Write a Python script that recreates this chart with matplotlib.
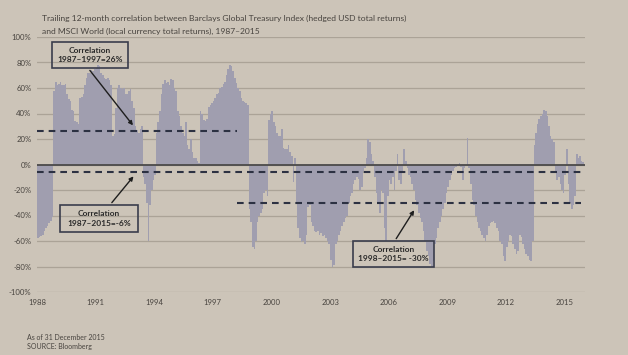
import matplotlib
matplotlib.use("Agg")
import matplotlib.pyplot as plt
from matplotlib.patches import Rectangle
import numpy as np

plt.rcParams['font.family'] = ['Lato', 'DejaVu Sans']

# Monthly trailing 12-month correlation (%), Jan 1988 .. Dec 2015
corr_by_year = {
    1988: [-58, -57, -56, -55, -52, -50, -48, -46, -44, -41, 58, 65],
    1989: [62, 63, 65, 62, 62, 63, 55, 51, 50, 43, 42, 34],
    1990: [33, 32, 52, 53, 55, 62, 68, 72, 72, 74, 73, 75],
    1991: [76, 78, 77, 72, 70, 68, 67, 68, 66, 62, 22, 24],
    1992: [44, 60, 62, 60, 59, 60, 55, 55, 58, 59, 50, 44],
    1993: [30, 27, 25, 28, 30, -10, -15, -30, -60, -32, -20, -12],
    1994: [-8, 25, 33, 42, 55, 63, 66, 64, 65, 62, 67, 66],
    1995: [60, 58, 42, 38, 30, 25, 22, 33, 15, 12, 20, 10],
    1996: [5, 5, 3, 1, 42, 40, 35, 34, 36, 45, 47, 48],
    1997: [50, 52, 55, 56, 60, 61, 63, 65, 70, 75, 78, 77],
    1998: [73, 68, 64, 60, 58, 52, 50, 49, 48, 47, -35, -45],
    1999: [-65, -66, -60, -45, -40, -38, -35, -22, -20, -25, 35, 40],
    2000: [42, 33, 30, 25, 22, 22, 28, 13, 12, 12, 15, 10],
    2001: [7, -14, 5, -30, -50, -58, -61, -60, -62, -55, -33, -32],
    2002: [-45, -48, -52, -53, -52, -55, -54, -56, -55, -58, -60, -62],
    2003: [-75, -80, -79, -62, -60, -55, -52, -48, -45, -42, -40, -30],
    2004: [-25, -22, -15, -12, -10, -11, -20, -18, -5, -3, 5, 20],
    2005: [18, 8, 3, -10, -22, -30, -38, -20, -22, -50, -60, -25],
    2006: [-12, -15, -10, -20, -5, 8, -12, -15, -5, 12, 3, -3],
    2007: [-8, -10, -15, -20, -28, -32, -38, -42, -45, -52, -60, -68],
    2008: [-72, -78, -80, -76, -62, -58, -50, -45, -40, -35, -30, -22],
    2009: [-18, -12, -8, -5, -3, -2, -1, 1, -2, -12, -3, 0],
    2010: [21, -3, -15, -28, -32, -40, -45, -50, -52, -55, -58, -60],
    2011: [-55, -48, -46, -45, -44, -46, -50, -52, -60, -62, -72, -76],
    2012: [-65, -60, -55, -56, -62, -66, -70, -68, -55, -57, -62, -66],
    2013: [-70, -72, -75, -76, -60, 15, 25, 32, 36, 38, 40, 43],
    2014: [42, 38, 30, 22, 20, 18, -5, -12, -10, -15, -20, -22],
    2015: [-8, 12, -15, -30, -35, -32, -25, 8, 5, 7, 3, 2],
}
years = sorted(corr_by_year)
values = [v for y in years for v in corr_by_year[y]]
dates = [y + m / 12 for y in years for m in range(12)]

tick_years = [1988, 1991, 1994, 1997, 2000, 2003, 2006, 2009, 2012, 2015]
y_ticks = [100, 80, 60, 40, 20, 0, -20, -40, -60, -80, -100]

avg_lines = [  # (value, start, end)
    (26, 1988.0, 1998.25),
    (-6, 1988.0, 2016.0),
    (-30, 1998.25, 2015.85),
]
boxes = [  # (x0, x1, y0, y1, text, arrow_from, arrow_to)
    (1988.77, 1992.67, 76.0, 95.7, "Correlation\n1987\u20131997=26%", (1990.62, 75.5), (1993.0, 29.0)),
    (1989.18, 1993.18, -53.0, -31.6, "Correlation\n1987\u20132015=-6%", (1991.74, -31.6), (1993.03, -7.6)),
    (2004.2, 2008.3, -80.6, -60.0, "Correlation\n1998\u20132015= -30%", (2006.31, -60.0), (2007.38, -34.0)),
]

BG = '#ccc4b8'
BAR = '#a09eaf'
GRID = '#aba397'
DARK = '#2c3142'
TXT = '#48443f'

fig = plt.figure(figsize=(6.28, 3.55), dpi=100, facecolor=BG)
ax = fig.add_axes([37 / 628, 1 - 292 / 355, 548 / 628, 255 / 355])
ax.set_facecolor(BG)

ax.bar(dates, values, width=1 / 12, align='edge', color=BAR, linewidth=0, zorder=2)

for t in y_ticks:
    ax.axhline(t, color=GRID, lw=0.9, zorder=1)
ax.axhline(0, color='#4b4a4a', lw=1.3, zorder=3)

for val, x0, x1 in avg_lines:
    ax.plot([x0, x1], [val, val], color=DARK, lw=1.5, linestyle=(0, (3.2, 2.4)), zorder=4)

for x0, x1, y0, y1, txt, a0, a1 in boxes:
    ax.add_patch(Rectangle((x0, y0), x1 - x0, y1 - y0, fill=False, edgecolor='#3a3d4c', lw=1.2, zorder=5, clip_on=False))
    ax.text((x0 + x1) / 2, (y0 + y1) / 2, txt, ha='center', va='center', fontsize=6,
            fontweight='bold', color='#2a2a2a', linespacing=1.45, zorder=6)
    ax.annotate('', xy=a1, xytext=a0,
                arrowprops=dict(arrowstyle='-|>', color='#1e1e1e', lw=1.0, mutation_scale=6), zorder=6)

ax.set_xlim(1988.0, 2016.05)
ax.set_ylim(-100, 100)
ax.set_yticks(y_ticks)
ax.set_yticklabels([f"{t}%" for t in y_ticks], fontsize=5.6, color=TXT)
ax.set_xticks(tick_years)
ax.set_xticklabels([str(t) for t in tick_years], fontsize=5.6, color=TXT)
ax.tick_params(length=0, pad=4)
ax.tick_params(axis='x', pad=5)
for s in ax.spines.values():
    s.set_visible(False)

fig.text(42 / 628, 1 - 18 / 355,
         "Trailing 12-month correlation between Barclays Global Treasury Index (hedged USD total returns)",
         fontsize=6.1, color=TXT, va='center', ha='left')
fig.text(42 / 628, 1 - 31 / 355,
         "and MSCI World (local currency total returns), 1987\u20132015",
         fontsize=6.1, color=TXT, va='center', ha='left')
fig.text(27 / 628, 1 - 338 / 355, "As of 31 December 2015", fontsize=5, color=TXT, va='center', ha='left')
fig.text(27 / 628, 1 - 347 / 355, "SOURCE: Bloomberg", fontsize=5, color=TXT, va='center', ha='left')

fig.savefig('out.png', dpi=100, facecolor=BG)
